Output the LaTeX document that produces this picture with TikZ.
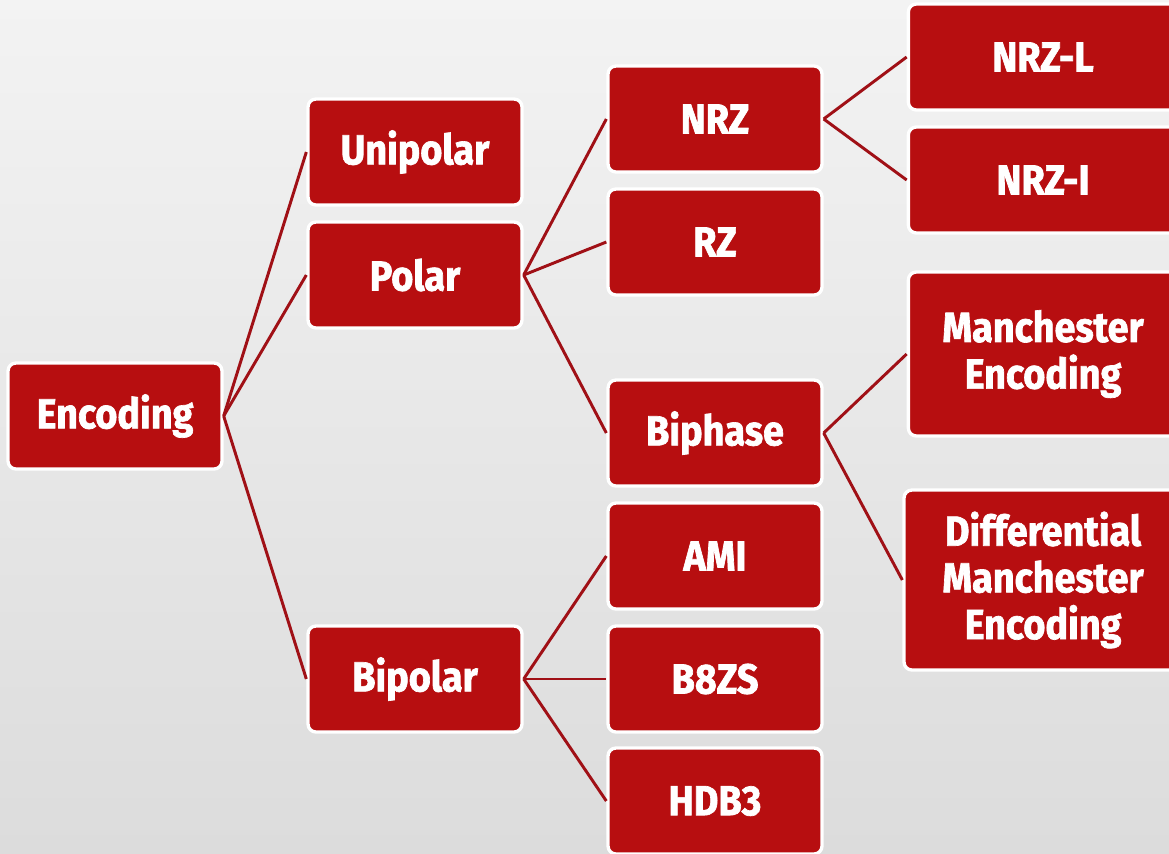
\documentclass[tikz,border=0pt]{standalone}
\usepackage{fontspec}
\setmainfont{Fira Sans}[FakeStretch=0.9,FakeBold=1.6]
\definecolor{boxred}{HTML}{B70E10}
\definecolor{linkred}{HTML}{A01016}
\definecolor{bgtop}{HTML}{F3F3F3}
\definecolor{bgbottom}{HTML}{DCDCDC}
\begin{document}
\begin{tikzpicture}[x=0.75pt,y=-0.75pt,
  box/.style={rectangle, rounded corners=6pt, fill=boxred, draw=white,
    line width=2.5pt, text=white, align=center, inner sep=0pt,
    font=\bfseries\fontsize{31.5}{35}\selectfont,
    minimum width=160.5pt, minimum height=79.5pt},
  widebox/.style={box, minimum width=202pt},
  link/.style={draw=linkred, line width=2.2pt}]

% page and background
\useasboundingbox (0,0) rectangle (1169,853);
\shade[top color=bgtop, bottom color=bgbottom] (0,0) rectangle (1169,853);

% root
\node[box] (enc) at (115,416) {Encoding};

% first level
\node[box] (uni) at (415,152) {Unipolar};
\node[box] (pol) at (415,275) {Polar};
\node[box] (bip) at (415,679) {Bipolar};

% second level
\node[box] (nrz)  at (715,119) {NRZ};
\node[box] (rz)   at (715,242) {RZ};
\node[box] (biph) at (715,433) {Biphase};
\node[box] (ami)  at (715,556) {AMI};
\node[box] (b8zs) at (715,679) {B8ZS};
\node[box] (hdb3) at (715,801) {HDB3};

% third level
\node[widebox] (nrzl) at (1043,57)  {NRZ-L};
\node[widebox] (nrzi) at (1043,180) {NRZ-I};
\node[widebox, minimum height=123pt] (man) at (1043,354) {Manchester\\Encoding};
\node[widebox, minimum width=208.5pt, minimum height=135pt] (diff) at (1043,580)
  {Differential\\Manchester\\Encoding};

% connectors
\foreach \c in {uni,pol,bip} \draw[link] (enc.east) -- (\c.west);
\foreach \c in {nrz,rz,biph} \draw[link] (pol.east) -- (\c.west);
\foreach \c in {ami,b8zs,hdb3} \draw[link] (bip.east) -- (\c.west);
\foreach \c in {nrzl,nrzi} \draw[link] (nrz.east) -- (\c.west);
\foreach \c in {man,diff} \draw[link] (biph.east) -- (\c.west);
\end{tikzpicture}
\end{document}
